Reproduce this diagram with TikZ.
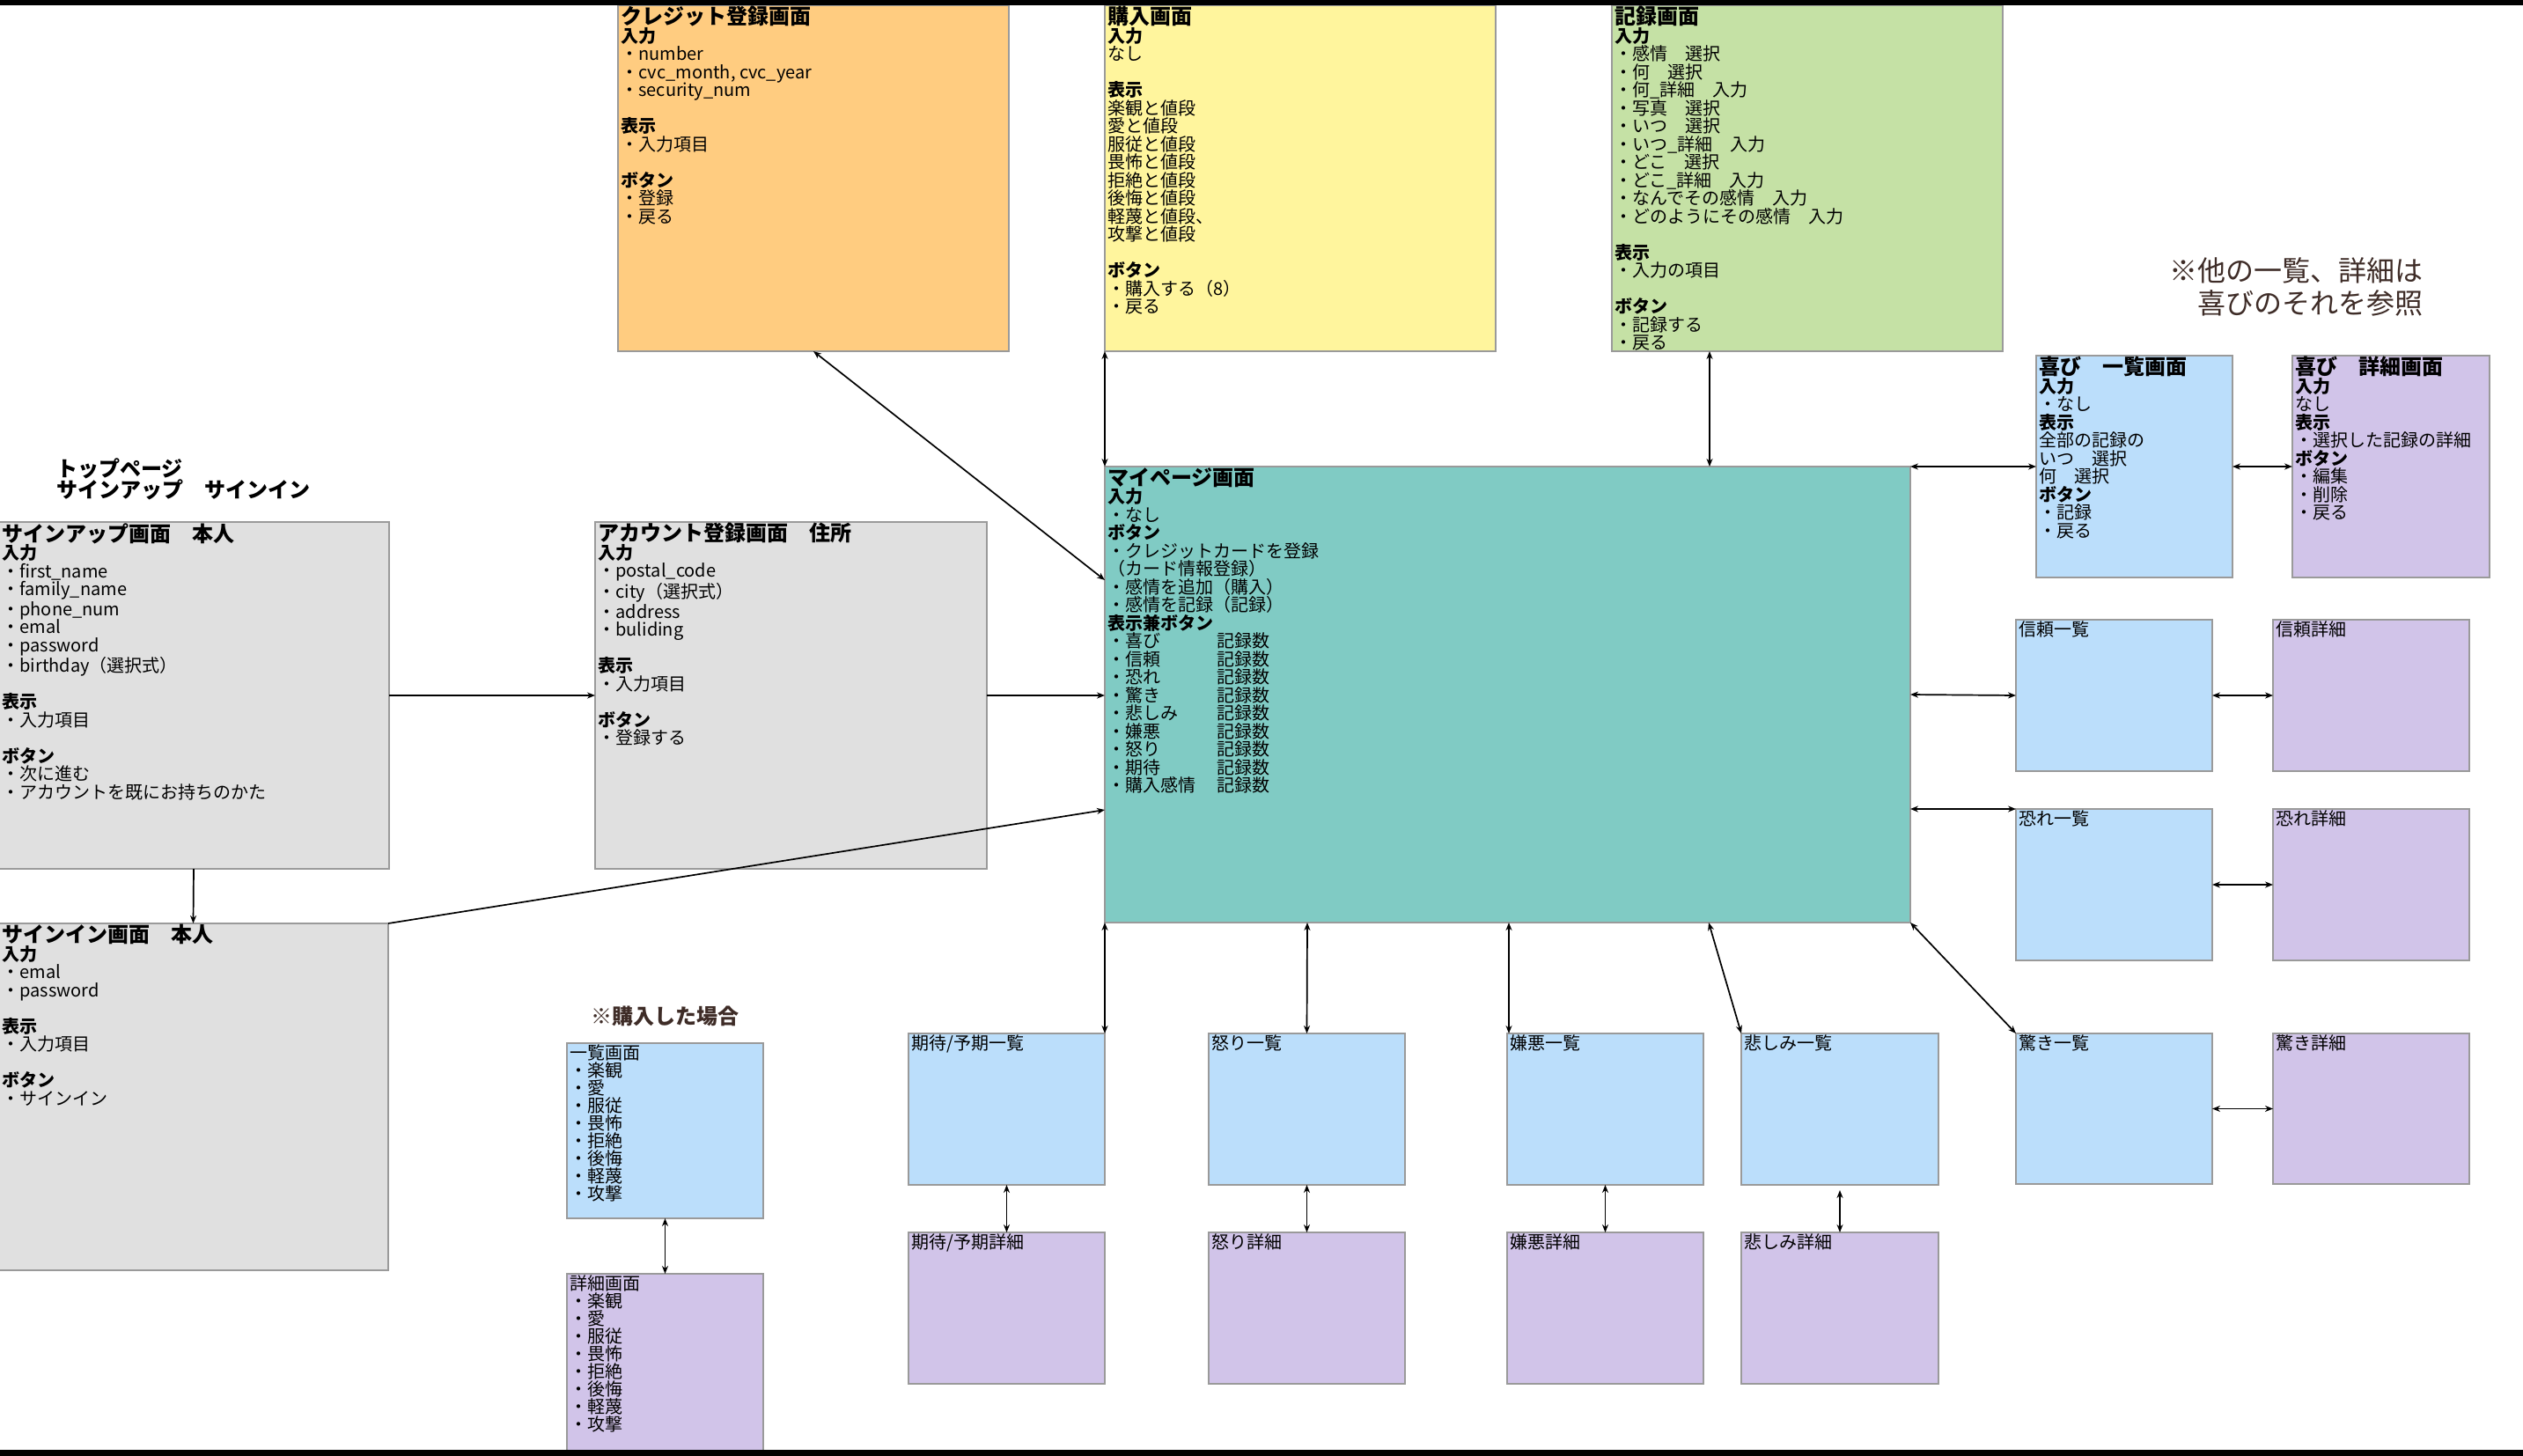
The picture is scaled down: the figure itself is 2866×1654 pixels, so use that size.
\documentclass[tikz,border=0pt]{standalone}
\usepackage{fontspec}
\setmainfont{Noto Sans CJK JP}
\usetikzlibrary{arrows.meta,calc}
\definecolor{cOrange}{HTML}{FFCC80}
\definecolor{cYellow}{HTML}{FFF59D}
\definecolor{cGreen}{HTML}{C5E1A5}
\definecolor{cTeal}{HTML}{80CBC4}
\definecolor{cGray}{HTML}{E0E0E0}
\definecolor{cBlue}{HTML}{BBDEFB}
\definecolor{cPurple}{HTML}{D1C4E9}
\definecolor{cBorder}{HTML}{9A9A9A}
\definecolor{cNote}{HTML}{3E2C27}
\newcommand{\ttl}[1]{{\fontsize{12pt}{12pt}\selectfont\bfseries #1}}
\newcommand{\hd}[1]{{\bfseries #1}}
\newcommand{\bx}[6]{%
  \pgfmathsetmacro{\bxw}{(#4-#2)*0.5}%
  \pgfmathsetmacro{\bxh}{(#5-#3)*0.5}%
  \node[scr, fill=#6, minimum width=\bxw pt, minimum height=\bxh pt] (#1) at ({(#2+#4)/2},{(#3+#5)/2}) {};}
\newcommand{\tx}[2]{\node[txt] (#1-t) at ([xshift=1pt]#1.north west) {#2};}
\tikzset{
  scr/.style={rectangle, draw=cBorder, line width=0.6pt, inner sep=0pt, outer sep=0pt},
  txt/.style={anchor=north west, align=left, inner sep=0.5pt, text=black,
              font=\fontsize{10pt}{10.25pt}\selectfont},
  conn/.style={draw=black, line width=0.85pt},
  one/.style={conn, -{Stealth[length=4.5pt,width=3.5pt]}},
  both/.style={conn, {Stealth[length=4.5pt,width=3.5pt]}-{Stealth[length=4.5pt,width=3.5pt]}},
}
\begin{document}
\begin{tikzpicture}[x=0.5pt,y=-0.5pt]
\useasboundingbox (0,0) rectangle (2866,1654);
\fill[white] (0,0) rectangle (2866,1654);

% ---- top row
\bx{credit}{702}{6}{1146}{399}{cOrange}
\tx{credit}{\ttl{クレジット登録画面}\\ \hd{入力}\\ ・number\\ ・cvc\_month, cvc\_year\\ ・security\_num\\ ~\\ \hd{表示}\\ ・入力項目\\ ~\\ \hd{ボタン}\\ ・登録\\ ・戻る}

\bx{purchase}{1255}{6}{1699}{399}{cYellow}
\tx{purchase}{\ttl{購入画面}\\ \hd{入力}\\ なし\\ ~\\ \hd{表示}\\ 楽観と値段\\ 愛と値段\\ 服従と値段\\ 畏怖と値段\\ 拒絶と値段\\ 後悔と値段\\ 軽蔑と値段、\\ 攻撃と値段\\ ~\\ \hd{ボタン}\\ ・購入する（8）\\ ・戻る}

\bx{record}{1831}{6}{2275}{399}{cGreen}
\tx{record}{\ttl{記録画面}\\ \hd{入力}\\ ・感情　選択\\ ・何　選択\\ ・何\_詳細　入力\\ ・写真　選択\\ ・いつ　選択\\ ・いつ\_詳細　入力\\ ・どこ　選択\\ ・どこ\_詳細　入力\\ ・なんでその感情　入力\\ ・どのようにその感情　入力\\ ~\\ \hd{表示}\\ ・入力の項目\\ ~\\ \hd{ボタン}\\ ・記録する\\ ・戻る}

% ---- notes
\node[anchor=north west, align=left, inner sep=0pt, font=\fontsize{12pt}{12pt}\selectfont\bfseries] (toptxt) at (64,520) {トップページ\\ サインアップ　サインイン};
\node[anchor=north east, align=right, inner sep=0pt, text=cNote, font=\fontsize{16pt}{18.5pt}\selectfont] (note1) at (2753,292) {※他の一覧、詳細は\\ 喜びのそれを参照};
\node[anchor=west, inner sep=0pt, text=cNote, font=\fontsize{12pt}{12pt}\selectfont\bfseries] (note2) at (671,1154) {※購入した場合};

% ---- left side
\bx{signup}{-2}{593}{442}{987}{cGray}
\node[txt] (signup-t) at (1,593) {\ttl{サインアップ画面　本人}\\ \hd{入力}\\ ・first\_name\\ ・family\_name\\ ・phone\_num\\ ・emal\\ ・password\\ ・birthday（選択式）\\ ~\\ \hd{表示}\\ ・入力項目\\ ~\\ \hd{ボタン}\\ ・次に進む\\ ・アカウントを既にお持ちのかた};

\bx{account}{676}{593}{1121}{987}{cGray}
\tx{account}{\ttl{アカウント登録画面　住所}\\ \hd{入力}\\ ・postal\_code\\ ・city（選択式）\\ ・address\\ ・buliding\\ ~\\ \hd{表示}\\ ・入力項目\\ ~\\ \hd{ボタン}\\ ・登録する}

\bx{signin}{-2}{1049}{441}{1443}{cGray}
\node[txt] (signin-t) at (1,1049) {\ttl{サインイン画面　本人}\\ \hd{入力}\\ ・emal\\ ・password\\ ~\\ \hd{表示}\\ ・入力項目\\ ~\\ \hd{ボタン}\\ ・サインイン};

% ---- my page
\bx{mypage}{1255}{530}{2170}{1048}{cTeal}
\tx{mypage}{\ttl{マイページ画面}\\ \hd{入力}\\ ・なし\\ \hd{ボタン}\\ ・クレジットカードを登録\\ （カード情報登録）\\ ・感情を追加（購入）\\ ・感情を記録（記録）\\ \hd{表示兼ボタン}\\
\makebox[62pt][l]{・喜び}記録数\\
\makebox[62pt][l]{・信頼}記録数\\
\makebox[62pt][l]{・恐れ}記録数\\
\makebox[62pt][l]{・驚き}記録数\\
\makebox[62pt][l]{・悲しみ}記録数\\
\makebox[62pt][l]{・嫌悪}記録数\\
\makebox[62pt][l]{・怒り}記録数\\
\makebox[62pt][l]{・期待}記録数\\
\makebox[62pt][l]{・購入感情}記録数}

% ---- joy
\bx{joyL}{2313}{404}{2536}{656}{cBlue}
\tx{joyL}{\ttl{喜び　一覧画面}\\ \hd{入力}\\ ・なし\\ \hd{表示}\\ 全部の記録の\\ いつ　選択\\ 何　選択\\ \hd{ボタン}\\ ・記録\\ ・戻る}
\bx{joyD}{2604}{404}{2828}{656}{cPurple}
\tx{joyD}{\ttl{喜び　詳細画面}\\ \hd{入力}\\ なし\\ \hd{表示}\\ ・選択した記録の詳細\\ \hd{ボタン}\\ ・編集\\ ・削除\\ ・戻る}

% ---- right column
\bx{trustL}{2290}{704}{2513}{876}{cBlue}\tx{trustL}{信頼一覧}
\bx{trustD}{2582}{704}{2805}{876}{cPurple}\tx{trustD}{信頼詳細}
\bx{fearL}{2290}{919}{2513}{1091}{cBlue}\tx{fearL}{恐れ一覧}
\bx{fearD}{2582}{919}{2805}{1091}{cPurple}\tx{fearD}{恐れ詳細}
\bx{surpL}{2290}{1174}{2513}{1345}{cBlue}\tx{surpL}{驚き一覧}
\bx{surpD}{2582}{1174}{2805}{1345}{cPurple}\tx{surpD}{驚き詳細}

% ---- bottom row
\bx{kitaiL}{1032}{1174}{1255}{1346}{cBlue}\tx{kitaiL}{期待/予期一覧}
\bx{kitaiD}{1032}{1400}{1255}{1572}{cPurple}\tx{kitaiD}{期待/予期詳細}
\bx{ikariL}{1373}{1174}{1596}{1346}{cBlue}\tx{ikariL}{怒り一覧}
\bx{ikariD}{1373}{1400}{1596}{1572}{cPurple}\tx{ikariD}{怒り詳細}
\bx{kenoL}{1712}{1174}{1935}{1346}{cBlue}\tx{kenoL}{嫌悪一覧}
\bx{kenoD}{1712}{1400}{1935}{1572}{cPurple}\tx{kenoD}{嫌悪詳細}
\bx{kanaL}{1978}{1174}{2202}{1346}{cBlue}\tx{kanaL}{悲しみ一覧}
\bx{kanaD}{1978}{1400}{2202}{1572}{cPurple}\tx{kanaD}{悲しみ詳細}

% ---- purchased
\bx{buyL}{644}{1185}{867}{1384}{cBlue}
\node[txt, font=\fontsize{10pt}{10pt}\selectfont] (buyL-t) at ([xshift=1pt]buyL.north west) {一覧画面\\ ・楽観\\ ・愛\\ ・服従\\ ・畏怖\\ ・拒絶\\ ・後悔\\ ・軽蔑\\ ・攻撃};
\bx{buyD}{644}{1447}{867}{1662}{cPurple}
\node[txt, font=\fontsize{10pt}{10pt}\selectfont] (buyD-t) at ([xshift=1pt]buyD.north west) {詳細画面\\ ・楽観\\ ・愛\\ ・服従\\ ・畏怖\\ ・拒絶\\ ・後悔\\ ・軽蔑\\ ・攻撃};

% ---- connectors
\draw[one] (signup.east) -- (account.west);
\draw[one] (account.east) -- (mypage.west |- account.east);
\draw[one] (signup.south) -- (signin.north);
\draw[one] (signin.north east) -- ([yshift=64pt]mypage.south west);
\draw[both] (credit.south) -- ([yshift=-64.5pt]mypage.north west);
\draw[both] (purchase.south west) -- (mypage.north west);
\draw[both] ([xshift=55.5pt]record.south west) -- ([xshift=343.5pt]mypage.north west);
\draw[both] (mypage.north east) -- (joyL.west);
\draw[both] (joyL.east) -- (joyD.west);
\draw[both] (mypage.east) -- (trustL.west);
\draw[both] (trustL.east) -- (trustD.west);
\draw[both] ([yshift=64.5pt]mypage.south east) -- (fearL.north west);
\draw[both] (fearL.east) -- (fearD.west);
\draw[both] (mypage.south east) -- (surpL.north west);
\draw[both] (surpL.east) -- (surpD.west);
\draw[both] (mypage.south west) -- (kitaiL.north east);
\draw[both] ([xshift=115pt]mypage.south west) -- (ikariL.north);
\draw[both] ([xshift=229.5pt]mypage.south west) -- ([xshift=1pt]kenoL.north west);
\draw[both] ([xshift=343pt]mypage.south west) -- (kanaL.north west);
\draw[both] (kitaiL.south) -- (kitaiD.north);
\draw[both] (ikariL.south) -- (ikariD.north);
\draw[both] (kenoL.south) -- (kenoD.north);
\draw[both] ([yshift=-3pt]kanaL.south) -- (kanaD.north);
\draw[both] (buyL.south) -- (buyD.north);

% ---- frame bars
\fill[black] (0,0) rectangle (2866,6);
\fill[black] (0,1647) rectangle (2866,1654);
\end{tikzpicture}
\end{document}
